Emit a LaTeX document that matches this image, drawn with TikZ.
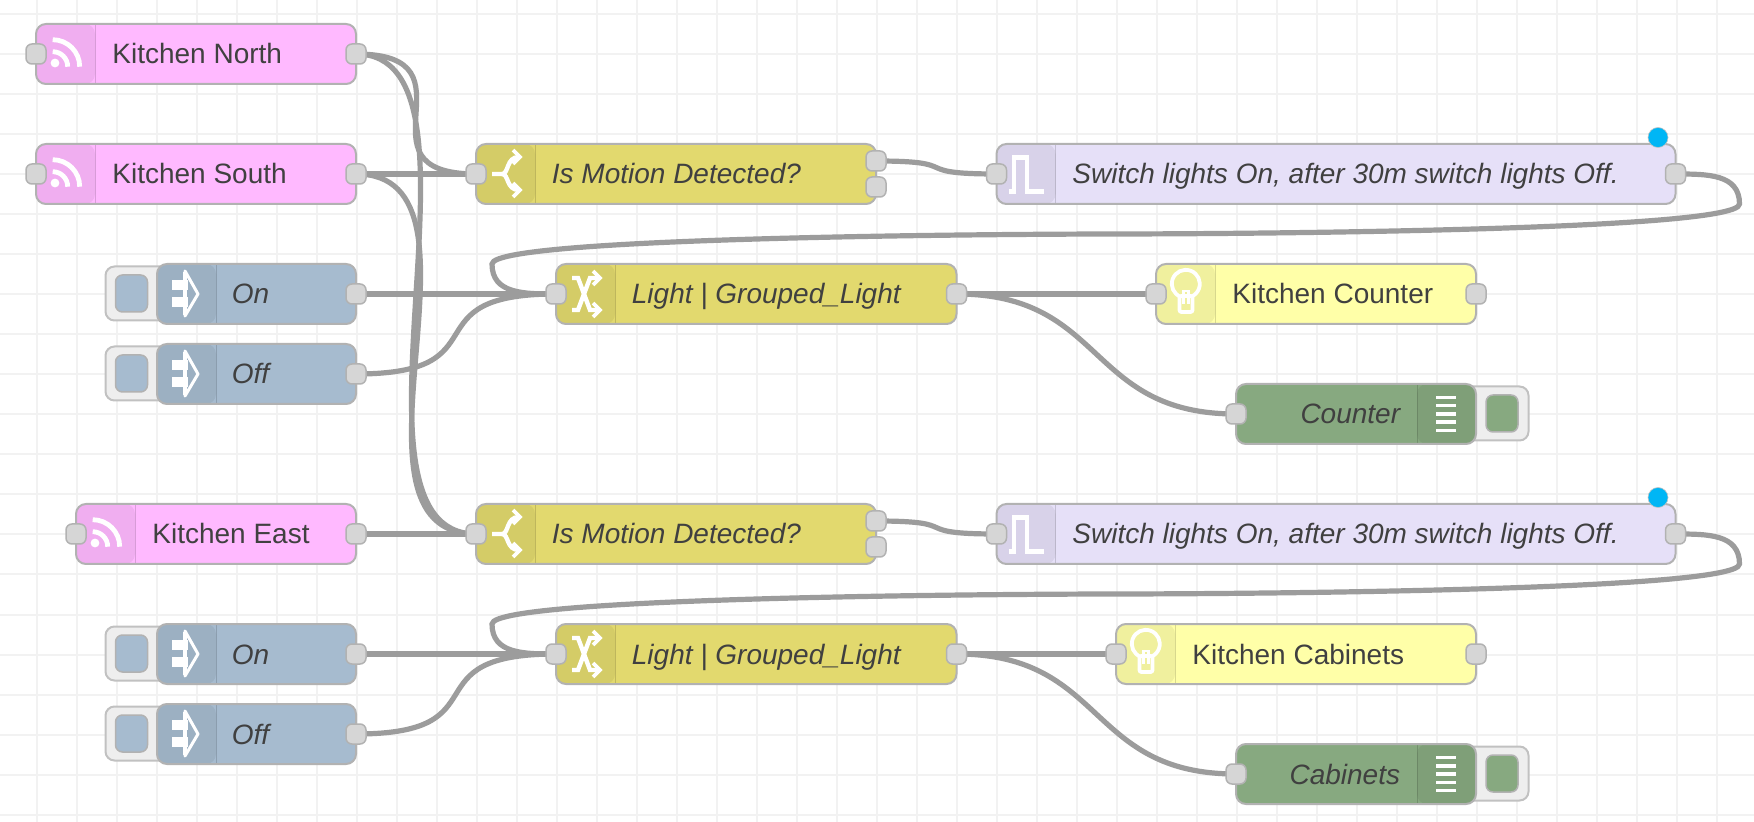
\documentclass[tikz,border=0pt]{standalone}
\usepackage{fontspec}
\setmainfont{Liberation Sans}
\usetikzlibrary{backgrounds}

\definecolor{pinkbody}{HTML}{FFB9FF}
\definecolor{switchbody}{HTML}{E2D96E}
\definecolor{injectbody}{HTML}{A6BBCF}
\definecolor{triggerbody}{HTML}{E6E0F8}
\definecolor{lampbody}{HTML}{FFFFA8}
\definecolor{debugbody}{HTML}{87A980}
\definecolor{edgegrey}{HTML}{B2B2B2}
\definecolor{wiregrey}{HTML}{9C9C9C}
\definecolor{gridgrey}{HTML}{F2F2F2}
\definecolor{portgrey}{HTML}{D6D6D6}
\definecolor{btngrey}{HTML}{EEEEEE}
\definecolor{labelgrey}{HTML}{404040}
\definecolor{dotblue}{HTML}{00B6F5}

\tikzset{
  x=0.5pt,y=-0.5pt,
  flowbox/.style={draw=edgegrey,line width=1pt,rounded corners=5pt,inner sep=0pt,outer sep=0pt,minimum height=30pt},
  iconleft/.style={path picture={
    \fill[black,opacity=.06] (path picture bounding box.north west) rectangle ([xshift=29.5pt]path picture bounding box.south west);
    \draw[black,opacity=.15,line width=.5pt] ([xshift=29.5pt]path picture bounding box.north west) -- ([xshift=29.5pt]path picture bounding box.south west);}},
  iconright/.style={path picture={
    \fill[black,opacity=.06] (path picture bounding box.north east) rectangle ([xshift=-29.5pt]path picture bounding box.south east);
    \draw[black,opacity=.15,line width=.5pt] ([xshift=-29.5pt]path picture bounding box.north east) -- ([xshift=-29.5pt]path picture bounding box.south east);}},
  port/.style={draw=edgegrey,fill=portgrey,line width=.75pt,rounded corners=3pt,inner sep=0pt,minimum size=10pt},
  btnbox/.style={draw=edgegrey!80,fill=btngrey,line width=1pt,rounded corners=4.5pt,inner sep=0pt,minimum height=27pt},
  btninner/.style={draw=edgegrey,line width=.75pt,rounded corners=3.5pt,inner sep=0pt,minimum height=18.5pt,minimum width=16pt},
  wire/.style={draw=wiregrey,line width=2.6pt},
  txt/.style={inner sep=0pt,text=labelgrey,font=\fontsize{14}{17}\selectfont},
  itxt/.style={txt,font=\fontsize{14}{17}\selectfont\itshape},
  dotmark/.style={circle,draw=wiregrey!60,fill=dotblue,line width=.3pt,inner sep=0pt,minimum size=10pt},
  icon/.style={draw=white,line width=2.2pt},
  feedicon/.pic={
    \fill[white] (-11,9) circle[radius=2.2pt];
    \draw[icon,line width=2.4pt] (-13.3,-2.3) arc (90:0:7.5pt);
    \draw[icon,line width=2.4pt] (-13.3,-14.3) arc (90:0:13.5pt);
  },
  injecticon/.pic={
    \draw[icon,line width=5pt] (-14,-9) -- (2,-9);
    \draw[icon,line width=5pt] (-14,8) -- (2,8);
    \draw[icon,line width=1.5pt,line join=round] (-1,-23) -- (12,0) -- (-1,22) -- cycle;
    \draw[icon,line width=2.2pt] (-1,-22) -- (-1,21);
  },
  switchicon/.pic={
    \draw[icon] (-14,0) -- (-4,0) .. controls (3,0) and (0,-17) .. (13,-17);
    \draw[icon] (-4,0) .. controls (3,0) and (0,16) .. (13,16);
    \draw[icon,line width=1.9pt] (7,-24) -- (14,-17) -- (7,-10);
    \draw[icon,line width=1.9pt] (7,9) -- (14,16) -- (7,23);
  },
  changeicon/.pic={
    \draw[icon] (-14,-16) -- (-8,-16) -- (4,16) -- (13,16);
    \draw[icon] (-14,16) -- (-8,16) -- (4,-16) -- (13,-16);
    \draw[icon,line width=1.9pt] (7,-23) -- (14,-16) -- (7,-9);
    \draw[icon,line width=1.9pt] (7,9) -- (14,16) -- (7,23);
  },
  pulseicon/.pic={
    \draw[icon,line width=2.2pt,miter limit=10] (-18,17.5) -- (-12.8,17.5) -- (-12.8,-16.5) -- (0.2,-16.5) -- (0.2,17.5) -- (17,17.5);
  },
  bulbicon/.pic={
    \draw[icon,line width=1.9pt] (-5,3) arc (250:-70:7pt);
    \draw[icon,line width=1.9pt,rounded corners=1pt] (-6.5,2) rectangle (6.5,18);
    \draw[icon,line width=1.3pt] (-2.5,10) -- (-2.5,-3) -- (2.5,-3) -- (2.5,10);
  },
  debugicon/.pic={
    \foreach \r in {-16.6,-8.3,0,8.3,16.6}
      \draw[icon,line width=1.8pt] (-10,\r) -- (10,\r);
  },
}

% name, left, right, centre y, colour, icon side
\newcommand{\flownode}[6]{\node[flowbox,fill=#5,#6,minimum width={(#3-#2)*0.5pt}] (#1) at ({(#2+#3)/2},#4) {};}
% the two halves of a wire that runs back to the left
\newcommand{\backwire}[2]{\draw[wire] (#1.center) .. controls +(32,0) and +(0,-30) .. ++(64,30)
  .. controls +(0,30) and +(0,0) .. ++(-623.75,30)
  .. controls +(0,0) and +(0,-30) .. ++(-623.75,30)
  .. controls +(0,30) and +(-32,0) .. (#2.center);}

\begin{document}
\begin{tikzpicture}
  \useasboundingbox (0,0) rectangle (1754,822);
  % Grid
  \begin{scope}[on background layer]
    \fill[white] (0,0) rectangle (1754,822);
    \foreach \x in {0,...,43}
      \draw[gridgrey,line width=1pt] ({37+40*\x},0) -- ({37+40*\x},822);
    \foreach \y in {0,...,20}
      \draw[gridgrey,line width=1pt] (0,{14.5+40*\y}) -- (1754,{14.5+40*\y});
  \end{scope}

  % Sensors
  \foreach \nm/\lft/\yc/\lab in {north/36/54/Kitchen North,south/36/174/Kitchen South,east/76/534/Kitchen East}{
    \flownode{\nm}{\lft}{356}{\yc}{pinkbody}{iconleft}
    \pic at ({\lft+30},\yc) {feedicon};
    \node[txt,anchor=base west] (\nm-label) at ({\lft+76},{\yc+10}) {\lab};
    \node[port] (\nm-in) at (\nm.west) {};
    \node[port] (\nm-out) at (\nm.east) {};
  }

  % Inject buttons
  \foreach \nm/\yc/\lab in {onA/294/On,offA/374/Off,onB/654/On,offB/734/Off}{
    \node[btnbox,minimum width=32pt] (\nm-btn) at (137.5,\yc-0.5) {};
    \flownode{\nm}{157}{356}{\yc}{injectbody}{iconleft}
    \node[btninner,fill=injectbody] (\nm-key) at (131.5,\yc-0.5) {};
    \pic at (186,\yc) {injecticon};
    \node[itxt,anchor=base west] (\nm-label) at (231.5,{\yc+10}) {\lab};
    \node[port] (\nm-out) at (\nm.east) {};
  }

  % Motion switches, triggers and changes
  \foreach \g/\ya/\yb in {A/174/294,B/534/654}{
    \flownode{motion\g}{476}{876}{\ya}{switchbody}{iconleft}
    \pic at (506,\ya) {switchicon};
    \node[itxt,anchor=base west] (motion\g-label) at (551.5,{\ya+10}) {Is Motion Detected?};
    \node[port] (motion\g-in) at (motion\g.west) {};
    \node[port] (motion\g-top) at ([yshift=6.5pt]motion\g.east) {};
    \node[port] (motion\g-low) at ([yshift=-6.5pt]motion\g.east) {};

    \flownode{trigger\g}{996.5}{1675.5}{\ya}{triggerbody}{iconleft}
    \pic at (1026.5,\ya) {pulseicon};
    \node[itxt,anchor=base west] (trigger\g-label) at (1072,{\ya+10}) {Switch lights On, after 30m switch lights Off.};
    \node[port] (trigger\g-in) at (trigger\g.west) {};
    \node[port] (trigger\g-out) at (trigger\g.east) {};
    \node[dotmark] (trigger\g-dot) at (1658,{\ya-36.5}) {};

    \flownode{change\g}{556}{956.5}{\yb}{switchbody}{iconleft}
    \pic at (586,\yb) {changeicon};
    \node[itxt,anchor=base west] (change\g-label) at (631.5,{\yb+10}) {Light | Grouped\_Light};
    \node[port] (change\g-in) at (change\g.west) {};
    \node[port] (change\g-out) at (change\g.east) {};
  }

  % Lights
  \foreach \nm/\lft/\yc/\lab in {counter/1156/294/Kitchen Counter,cabinets/1116/654/Kitchen Cabinets}{
    \flownode{\nm}{\lft}{1476}{\yc}{lampbody}{iconleft}
    \pic at ({\lft+30},\yc) {bulbicon};
    \node[txt,anchor=base west] (\nm-label) at ({\lft+76},{\yc+10}) {\lab};
    \node[port] (\nm-in) at (\nm.west) {};
    \node[port] (\nm-out) at (\nm.east) {};
  }

  % Debug nodes
  \foreach \nm/\yc/\lab in {debugA/414/Counter,debugB/774/Cabinets}{
    \node[btnbox,minimum width=32.5pt] (\nm-btn) at (1496,\yc-0.5) {};
    \flownode{\nm}{1236}{1476}{\yc}{debugbody}{iconright}
    \node[btninner,fill=debugbody] (\nm-key) at (1502,\yc-0.5) {};
    \pic at (1446,\yc) {debugicon};
    \node[itxt,anchor=base east] (\nm-label) at (1400.5,{\yc+10}) {\lab};
    \node[port] (\nm-in) at (\nm.west) {};
  }

  % Wires
  \begin{scope}[on background layer]
    \draw[wire] (north-out.center) .. controls +(127.5,0) and +(-127.5,0) .. (motionA-in.center);
    \draw[wire] (north-out.center) .. controls +(150,0) and +(-150,0) .. (motionB-in.center);
    \draw[wire] (south-out.center) -- (motionA-in.center);
    \draw[wire] (south-out.center) .. controls +(150,0) and +(-150,0) .. (motionB-in.center);
    \draw[wire] (east-out.center) -- (motionB-in.center);
    \foreach \g in {A,B}{
      \draw[wire] (motion\g-top.center) .. controls +(91,0) and +(-91,0) .. (trigger\g-in.center);
      \backwire{trigger\g-out}{change\g-in}
      \draw[wire] (on\g-out.center) -- (change\g-in.center);
      \draw[wire] (off\g-out.center) .. controls +(150,0) and +(-150,0) .. (change\g-in.center);
      \draw[wire] (change\g-out.center) .. controls +(150,0) and +(-150,0) .. (debug\g-in.center);
    }
    \draw[wire] (changeA-out.center) -- (counter-in.center);
    \draw[wire] (changeB-out.center) -- (cabinets-in.center);
  \end{scope}
\end{tikzpicture}
\end{document}
